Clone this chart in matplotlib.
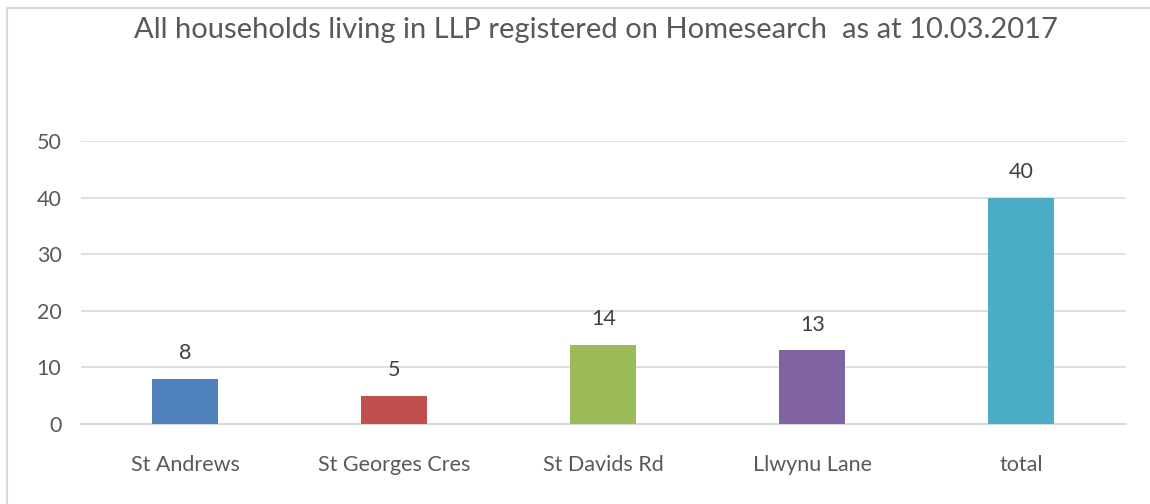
import matplotlib.pyplot as plt
from matplotlib.patches import Rectangle

categories = ['St Andrews', 'St Georges Cres', 'St Davids Rd', 'Llwynu Lane', 'total']
values = [8, 5, 14, 13, 40]
colors = ['#4F81BD', '#C0504D', '#9BBB59', '#8064A2', '#4BACC6']
yticks = [0, 10, 20, 30, 40, 50]

plt.rcParams['font.family'] = ['Lato', 'DejaVu Sans']
txt = '#595959'
grid = '#D9D9D9'

fig = plt.figure(figsize=(11.5, 5.04), dpi=100)
ax = fig.add_axes([0.0704, 0.1587, 0.9086, 0.5615])

x = range(len(categories))
bars = ax.bar(x, values, width=0.316, color=colors, zorder=3)
for b, v in zip(bars, values):
    ax.annotate(str(v), (b.get_x() + b.get_width() / 2, v), xytext=(0, 11),
                textcoords='offset points', ha='center', va='bottom',
                fontsize=15.5, color='#404040')

ax.set_xlim(-0.5, len(categories) - 0.5)
ax.set_ylim(0, 50)
ax.set_yticks(yticks)
ax.set_xticks(list(x))
ax.set_xticklabels(categories)
ax.yaxis.grid(True, color=grid, linewidth=1.2, zorder=0)
ax.tick_params(axis='both', length=0, labelsize=15.5, labelcolor=txt)
ax.tick_params(axis='x', pad=22)
ax.tick_params(axis='y', pad=14)
for s in ['top', 'right', 'left']:
    ax.spines[s].set_visible(False)
ax.spines['bottom'].set_color(grid)
ax.spines['bottom'].set_linewidth(1.5)

fig.text(0.518, 1 - 30 / 504, 'All households living in LLP registered on Homesearch  as at 10.03.2017',
         ha='center', va='center', fontsize=21, color=txt)

# chart frame (only left and top edges visible in the crop)
fig.patches.append(Rectangle((7 / 1150, -0.1), 1.2, 1 - 8 / 504 + 0.1,
                             transform=fig.transFigure, fill=False,
                             edgecolor=grid, linewidth=1.5))

fig.savefig('out.png', dpi=100)
